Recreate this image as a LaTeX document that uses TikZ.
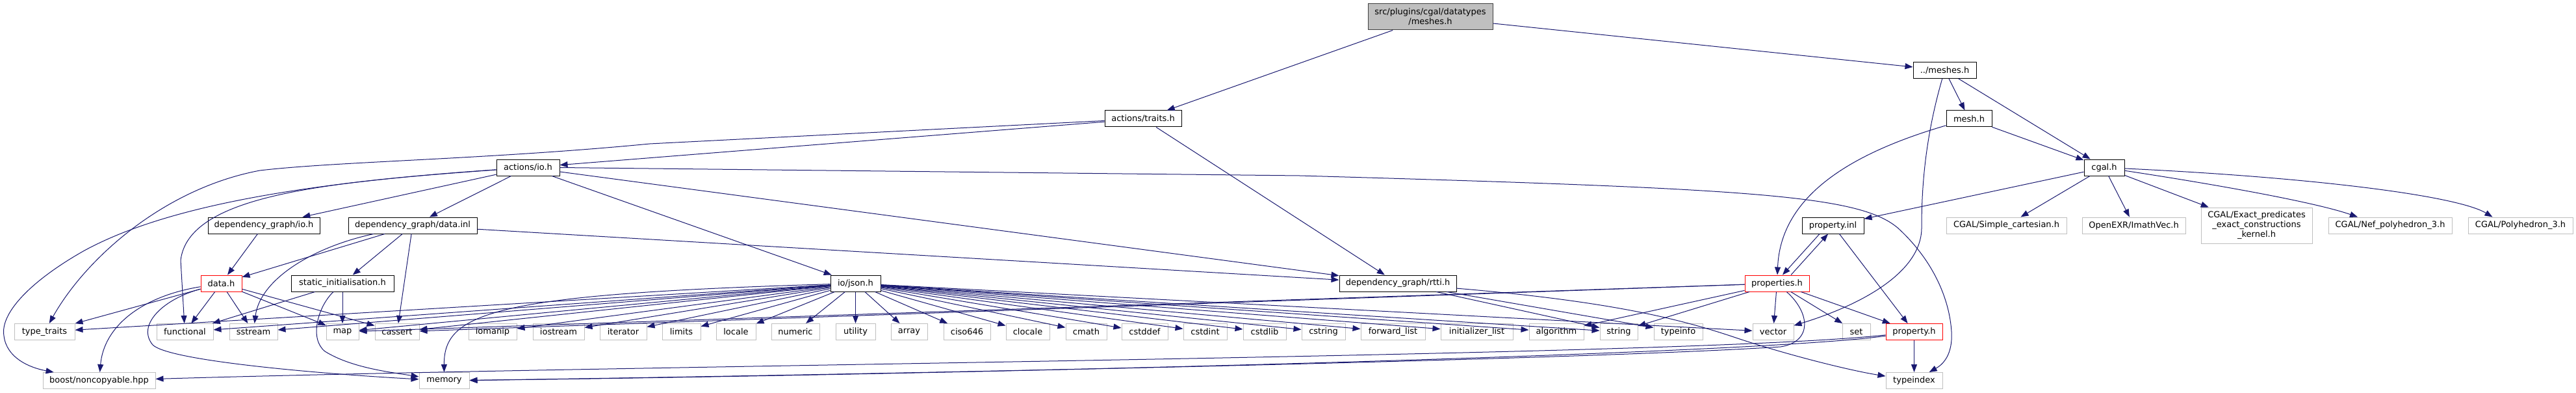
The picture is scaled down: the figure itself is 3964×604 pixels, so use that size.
\documentclass[tikz,border=0pt]{standalone}
\usepackage{fontspec}
\setmainfont{DejaVu Sans}
\usetikzlibrary{arrows.meta}
\definecolor{edgec}{HTML}{191970}
\definecolor{extc}{HTML}{BFBFBF}
\definecolor{rootb}{HTML}{404040}
\begin{document}
\begin{tikzpicture}[x=1pt,y=-1pt,
  box/.style={rectangle, font=\fontsize{13}{15}\selectfont, inner sep=0pt, minimum height=25pt, fill=white, line width=1pt, align=center},
  int/.style={box, draw=black},
  ext/.style={box, draw=extc},
  trunc/.style={box, draw=red},
  root/.style={box, draw=rootb, fill=extc},
  e/.style={draw=edgec, line width=1pt, -{Triangle[length=12pt,width=9pt]}}]
\useasboundingbox (0,0) rectangle (3964,604);

% row 0-3
\node[root, minimum width=192pt, minimum height=40pt] (main) at (2201,26) {src/plugins/cgal/datatypes\\/meshes.h};
\node[int, minimum width=97pt] (meshesrel) at (2992.5,108) {../meshes.h};
\node[int, minimum width=118pt] (traits) at (1759,182.5) {actions/traits.h};
\node[int, minimum width=70pt] (mesh) at (3030,182.5) {mesh.h};
\node[int, minimum width=97pt] (aio) at (812.5,257.5) {actions/io.h};
\node[int, minimum width=62pt] (cgal) at (3238,257.5) {cgal.h};
% row 4
\node[int, minimum width=172pt] (dgio) at (406,346.5) {dependency\_graph/io.h};
\node[int, minimum width=198pt] (dginl) at (635,346.5) {dependency\_graph/data.inl};
\node[int, minimum width=95pt] (propinl) at (2820.5,346.5) {property.inl};
\node[ext, minimum width=185pt] (simple) at (3087.5,346.5) {CGAL/Simple\_cartesian.h};
\node[ext, minimum width=159pt] (imath) at (3283.5,346.5) {OpenEXR/ImathVec.h};
\node[ext, minimum width=171pt, minimum height=55pt] (exact) at (3472.5,346.5) {CGAL/Exact\_predicates\\\_exact\_constructions\\\_kernel.h};
\node[ext, minimum width=190pt] (nef) at (3678,346.5) {CGAL/Nef\_polyhedron\_3.h};
\node[ext, minimum width=161pt] (poly) at (3878.5,346.5) {CGAL/Polyhedron\_3.h};
% row 5
\node[trunc, minimum width=63pt] (data) at (340.5,435.5) {data.h};
\node[int, minimum width=158pt] (static) at (527,435.5) {static\_initialisation.h};
\node[int, minimum width=77pt] (json) at (1316.5,435.5) {io/json.h};
\node[int, minimum width=180pt] (rtti) at (2151,435.5) {dependency\_graph/rtti.h};
\node[trunc, minimum width=99pt] (properties) at (2734.5,435.5) {properties.h};
% row 6
\node[ext, minimum width=93pt] (tt) at (68.5,510) {type\_traits};
\node[ext, minimum width=87pt] (func) at (284.5,510) {functional};
\node[ext, minimum width=74pt] (sstream) at (390,510) {sstream};
\node[ext, minimum width=50pt] (map) at (527,510) {map};
\node[ext, minimum width=68pt] (cassert) at (611,510) {cassert};
\node[ext, minimum width=74pt] (iomanip) at (758,510) {iomanip};
\node[ext, minimum width=79pt] (iostream) at (859.5,510) {iostream};
\node[ext, minimum width=72pt] (iterator) at (959,510) {iterator};
\node[ext, minimum width=59pt] (limits) at (1048.5,510) {limits};
\node[ext, minimum width=61pt] (locale) at (1132.5,510) {locale};
\node[ext, minimum width=74pt] (numeric) at (1224,510) {numeric};
\node[ext, minimum width=61pt] (utility) at (1316.5,510) {utility};
\node[ext, minimum width=56pt] (array) at (1399,510) {array};
\node[ext, minimum width=72pt] (ciso) at (1488,510) {ciso646};
\node[ext, minimum width=67pt] (clocale) at (1581.5,510) {clocale};
\node[ext, minimum width=63pt] (cmath) at (1671.5,510) {cmath};
\node[ext, minimum width=71pt] (cstddef) at (1761.5,510) {cstddef};
\node[ext, minimum width=67pt] (cstdint) at (1854.5,510) {cstdint};
\node[ext, minimum width=66pt] (cstdlib) at (1946,510) {cstdlib};
\node[ext, minimum width=67pt] (cstring) at (2036.5,510) {cstring};
\node[ext, minimum width=99pt] (fwdlist) at (2143.5,510) {forward\_list};
\node[ext, minimum width=111pt] (initlist) at (2272.5,510) {initializer\_list};
\node[ext, minimum width=84pt] (algorithm) at (2395,510) {algorithm};
\node[ext, minimum width=58pt] (string) at (2491,510) {string};
\node[ext, minimum width=75pt] (typeinfo) at (2582.5,510) {typeinfo};
\node[ext, minimum width=63pt] (vector) at (2728.5,510) {vector};
\node[ext, minimum width=43pt] (set) at (2856.5,510) {set};
\node[trunc, minimum width=87pt] (property) at (2945.5,510) {property.h};
% row 7
\node[ext, minimum width=173pt] (boost) at (152.5,585) {boost/noncopyable.hpp};
\node[ext, minimum width=77pt] (memory) at (683.5,585) {memory};
\node[ext, minimum width=87pt] (typeindex) at (2945.5,585) {typeindex};

% edges
\draw[e] (main) -- (traits);
\draw[e] (main) -- (meshesrel);
\draw[e] (meshesrel) -- (mesh);
\draw[e] (meshesrel) -- (cgal);
\draw[e] (meshesrel) .. controls (2960,220) and (2957,300) .. (2957,350) .. controls (2957,420) and (2860,470) .. (vector);
\draw[e] (mesh) -- (cgal);
\draw[e] (mesh) .. controls (2850,235) and (2740,300) .. (properties);
\draw[e] (cgal) -- (propinl);
\draw[e] (cgal) -- (simple);
\draw[e] (cgal) -- (imath);
\draw[e] (cgal) -- (exact);
\draw[e] (cgal) .. controls (3400,282) and (3560,310) .. ([xshift=-50pt]nef.north);
\draw[e] (cgal) .. controls (3550,272) and (3780,300) .. ([xshift=-43pt]poly.north);

\draw[e] (traits) -- (aio);
\draw[e] (traits) -- (rtti);
\draw[e] (traits) -- (1000,221) .. controls (750,245) and (520,248) .. (400,262) .. controls (250,290) and (130,400) .. (tt);

\draw[e] (aio) -- (dgio);
\draw[e] (aio) -- (dginl);
\draw[e] (aio) -- (json);
\draw[e] (aio) -- (rtti);
\draw[e] (aio) .. controls (500,280) and (290,300) .. (278,400) -- (func);
\draw[e] (aio) .. controls (450,282) and (250,320) .. (130,385) .. controls (50,430) and (0,480) .. (6,516) .. controls (10,550) and (45,565) .. (boost);
\draw[e] (aio.east) -- (2000,270) .. controls (2700,290) and (2860,300) .. (2920,350) .. controls (2975,400) and (3000,460) .. (3003,510) .. controls (3005,545) and (2990,560) .. (typeindex);

\draw[e] (dgio) -- (data);
\draw[e] (dginl) -- (data);
\draw[e] (dginl) -- (static);
\draw[e] (dginl) -- (cassert);
\draw[e] (dginl) -- (rtti);
\draw[e] (dginl) .. controls (480,380) and (400,430) .. (sstream);

\draw[e] (data) -- (tt);
\draw[e] (data) -- (func);
\draw[e] (data) -- (sstream);
\draw[e] (data) -- (map);
\draw[e] (data) -- (cassert);
\draw[e] (data) .. controls (220,455) and (160,500) .. (boost);
\draw[e] (data) .. controls (250,460) and (210,500) .. (235,530) .. controls (260,555) and (500,575) .. (memory);

\draw[e] (static) -- (func);
\draw[e] (static) -- (map);
\draw[e] (static) .. controls (490,470) and (475,520) .. (500,540) .. controls (540,565) and (600,572) .. (memory);

\foreach \t in {tt,func,sstream,map,cassert,iomanip,iostream,iterator,limits,locale,numeric,utility,array,ciso,clocale,cmath,cstddef,cstdint,cstdlib,cstring,fwdlist,initlist,algorithm,string,vector}
  \draw[e] (json) -- (\t);
\draw[e] (json) .. controls (760,452) and (683,480) .. (memory);

\draw[e] (rtti) -- (string);
\draw[e] (rtti) -- (typeinfo);
\draw[e] (rtti) .. controls (2500,465) and (2600,495) .. (2680,522) .. controls (2760,548) and (2850,570) .. (typeindex);

\draw[e] ([xshift=-20.5pt]propinl.south) -- ([xshift=8.5pt]properties.north);
\draw[e] ([xshift=21.5pt]properties.north) -- ([xshift=-7.5pt]propinl.south);
\draw[e] (propinl) -- (property);

\draw[e] (properties) -- (vector);
\draw[e] (properties) -- (set);
\draw[e] (properties) -- (property);
\draw[e] (properties) -- (string);
\draw[e] (properties) -- (algorithm);
\draw[e] (properties) -- (cassert);
\draw[e] (properties) -- (map);
\draw[e] (properties) .. controls (2785,480) and (2790,525) .. (2740,533) .. controls (2400,555) and (1200,578) .. (memory);

\draw[e] (property) -- (typeindex);
\draw[e] (property) .. controls (2700,545) and (1500,575) .. (memory);
\draw[e] (property) .. controls (2600,548) and (1000,560) .. (boost);
\end{tikzpicture}
\end{document}
